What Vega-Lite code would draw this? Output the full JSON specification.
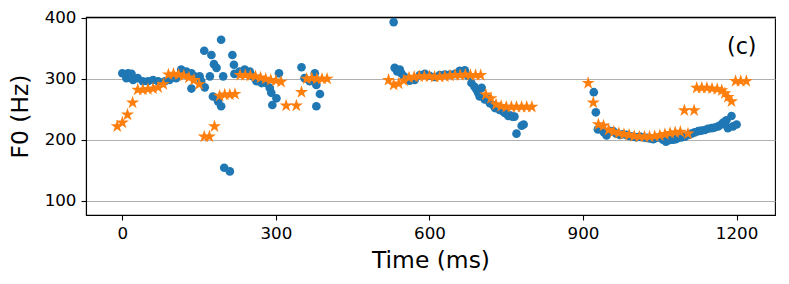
{
  "$schema": "https://vega.github.io/schema/vega-lite/v6.json",
  "autosize": {"type": "none"},
  "padding": {"left": 86, "top": 17, "right": 14, "bottom": 69},
  "width": 689,
  "height": 198,
  "background": "white",
  "config": {
    "font": "DejaVu Sans",
    "view": {"stroke": "black", "strokeWidth": 1.1},
    "axis": {
      "domainColor": "black", "domainWidth": 1.1,
      "tickColor": "black", "tickWidth": 1.1, "tickSize": 5,
      "labelColor": "black", "labelFontSize": 16.7, "labelPadding": 5,
      "titleColor": "black", "titleFontSize": 23.4, "titleFontWeight": "normal",
      "labelFont": "DejaVu Sans", "titleFont": "DejaVu Sans"
    }
  },
  "datasets": {
    "blue": [
      {"t":0,"f0":309},{"t":8,"f0":301},{"t":11,"f0":309},{"t":18,"f0":308},{"t":21,"f0":298},{"t":30,"f0":301},{"t":40,"f0":296},{"t":50,"f0":296},{"t":60,"f0":298},{"t":70,"f0":296},{"t":83,"f0":296},{"t":92,"f0":298},{"t":105,"f0":301},{"t":115,"f0":315},{"t":125,"f0":312},{"t":135,"f0":309},{"t":135,"f0":284},{"t":141,"f0":304},{"t":151,"f0":304},{"t":154,"f0":296},{"t":160,"f0":346},{"t":161,"f0":286},{"t":171,"f0":304},{"t":174,"f0":339},{"t":177,"f0":271},{"t":179,"f0":324},{"t":184,"f0":318},{"t":187,"f0":263},{"t":193,"f0":364},{"t":193,"f0":255},{"t":197,"f0":304},{"t":199,"f0":154},{"t":210,"f0":148},{"t":215,"f0":339},{"t":218,"f0":323},{"t":219,"f0":308},{"t":229,"f0":312},{"t":239,"f0":315},{"t":249,"f0":312},{"t":255,"f0":304},{"t":262,"f0":296},{"t":272,"f0":293},{"t":281,"f0":293},{"t":288,"f0":285},{"t":291,"f0":277},{"t":293,"f0":257},{"t":301,"f0":268},{"t":306,"f0":309},{"t":350,"f0":319},{"t":356,"f0":301},{"t":366,"f0":296},{"t":376,"f0":309},{"t":379,"f0":298},{"t":379,"f0":290},{"t":386,"f0":275},{"t":379,"f0":255},
      {"t":530,"f0":393},{"t":532,"f0":318},{"t":537,"f0":312},{"t":542,"f0":315},{"t":545,"f0":309},{"t":550,"f0":304},{"t":561,"f0":297},{"t":571,"f0":298},{"t":581,"f0":306},{"t":591,"f0":308},{"t":600,"f0":305},{"t":610,"f0":303},{"t":620,"f0":306},{"t":630,"f0":307},{"t":640,"f0":307},{"t":650,"f0":308},{"t":659,"f0":313},{"t":669,"f0":314},{"t":675,"f0":305},{"t":682,"f0":293},{"t":688,"f0":287},{"t":692,"f0":282},{"t":695,"f0":277},{"t":698,"f0":271},{"t":702,"f0":285},{"t":708,"f0":266},{"t":714,"f0":267},{"t":718,"f0":260},{"t":724,"f0":257},{"t":728,"f0":252},{"t":734,"f0":252},{"t":737,"f0":249},{"t":744,"f0":247},{"t":747,"f0":244},{"t":754,"f0":239},{"t":757,"f0":240},{"t":762,"f0":238},{"t":766,"f0":238},{"t":770,"f0":210},{"t":780,"f0":223},{"t":784,"f0":225},
      {"t":921,"f0":278},{"t":925,"f0":245},{"t":929,"f0":217},{"t":936,"f0":217},{"t":941,"f0":212},{"t":946,"f0":207},{"t":953,"f0":214},{"t":959,"f0":214},{"t":965,"f0":210},{"t":972,"f0":208},{"t":978,"f0":209},{"t":985,"f0":208},{"t":991,"f0":206},{"t":998,"f0":205},{"t":1004,"f0":204},{"t":1011,"f0":205},{"t":1017,"f0":204},{"t":1024,"f0":203},{"t":1030,"f0":202},{"t":1037,"f0":201},{"t":1043,"f0":203},{"t":1050,"f0":204},{"t":1056,"f0":200},{"t":1062,"f0":197},{"t":1066,"f0":199},{"t":1071,"f0":200},{"t":1076,"f0":200},{"t":1081,"f0":201},{"t":1086,"f0":203},{"t":1093,"f0":204},{"t":1099,"f0":205},{"t":1106,"f0":208},{"t":1112,"f0":210},{"t":1118,"f0":212},{"t":1125,"f0":214},{"t":1131,"f0":215},{"t":1138,"f0":216},{"t":1144,"f0":218},{"t":1151,"f0":219},{"t":1157,"f0":220},{"t":1164,"f0":222},{"t":1170,"f0":225},{"t":1174,"f0":228},{"t":1180,"f0":232},{"t":1183,"f0":219},{"t":1190,"f0":239},{"t":1193,"f0":222},{"t":1200,"f0":225}
    ],
    "orange": [
      {"t":-10,"f0":222},{"t":0,"f0":228},{"t":10,"f0":241},{"t":20,"f0":261},{"t":30,"f0":282},{"t":40,"f0":282},{"t":50,"f0":283},{"t":60,"f0":284},{"t":70,"f0":286},{"t":80,"f0":291},{"t":90,"f0":307},{"t":100,"f0":308},{"t":110,"f0":307},{"t":120,"f0":305},{"t":130,"f0":302},{"t":140,"f0":298},{"t":150,"f0":291},{"t":160,"f0":205},{"t":170,"f0":205},{"t":180,"f0":222},{"t":190,"f0":272},{"t":200,"f0":274},{"t":210,"f0":274},{"t":220,"f0":275},{"t":230,"f0":306},{"t":240,"f0":306},{"t":250,"f0":305},{"t":260,"f0":304},{"t":270,"f0":302},{"t":280,"f0":300},{"t":290,"f0":298},{"t":300,"f0":297},{"t":310,"f0":295},{"t":320,"f0":256},{"t":340,"f0":256},{"t":350,"f0":278},{"t":360,"f0":300},{"t":370,"f0":301},{"t":380,"f0":300},{"t":390,"f0":300},{"t":400,"f0":300},
      {"t":520,"f0":298},{"t":530,"f0":290},{"t":540,"f0":292},{"t":550,"f0":297},{"t":560,"f0":302},{"t":570,"f0":303},{"t":580,"f0":304},{"t":590,"f0":304},{"t":600,"f0":304},{"t":610,"f0":303},{"t":620,"f0":303},{"t":630,"f0":304},{"t":640,"f0":305},{"t":650,"f0":306},{"t":660,"f0":306},{"t":670,"f0":307},{"t":680,"f0":306},{"t":690,"f0":306},{"t":700,"f0":306},{"t":710,"f0":274},{"t":720,"f0":268},{"t":730,"f0":258},{"t":740,"f0":255},{"t":750,"f0":254},{"t":760,"f0":254},{"t":770,"f0":254},{"t":780,"f0":254},{"t":790,"f0":254},{"t":800,"f0":254},
      {"t":910,"f0":293},{"t":920,"f0":261},{"t":930,"f0":225},{"t":940,"f0":223},{"t":950,"f0":216},{"t":960,"f0":213},{"t":970,"f0":211},{"t":980,"f0":209},{"t":990,"f0":208},{"t":1000,"f0":206},{"t":1010,"f0":205},{"t":1020,"f0":205},{"t":1030,"f0":205},{"t":1040,"f0":206},{"t":1050,"f0":207},{"t":1060,"f0":209},{"t":1070,"f0":211},{"t":1080,"f0":212},{"t":1090,"f0":213},{"t":1098,"f0":248},{"t":1105,"f0":210},{"t":1117,"f0":248},{"t":1122,"f0":285},{"t":1132,"f0":285},{"t":1142,"f0":285},{"t":1152,"f0":284},{"t":1162,"f0":283},{"t":1171,"f0":281},{"t":1177,"f0":276},{"t":1183,"f0":270},{"t":1190,"f0":263},{"t":1198,"f0":296},{"t":1208,"f0":296},{"t":1219,"f0":296}
    ],
    "note": [{"label":"(c)","t":1210,"f0":352}]
  },
  "encoding": {
    "x": {"field": "t", "type": "quantitative", "scale": {"domain": [-71, 1275], "nice": false, "zero": false},
      "axis": {"values": [0, 300, 600, 900, 1200], "format": "d", "title": "Time (ms)", "grid": false, "titlePadding": 8}},
    "y": {"field": "f0", "type": "quantitative", "scale": {"domain": [76.5, 401.4], "nice": false, "zero": false},
      "axis": {"values": [100, 200, 300, 400], "format": "d", "title": "F0 (Hz)", "grid": true, "gridColor": "#b0b0b0", "gridWidth": 1.1, "titlePadding": 12}}
  },
  "layer": [
    {"data": {"name": "blue"}, "mark": {"type": "point", "shape": "circle", "filled": true, "color": "#1f77b4", "opacity": 1, "size": 75, "strokeWidth": 0}},
    {"data": {"name": "orange"}, "mark": {"type": "point", "shape": "M0,-1L0.2245,-0.309L0.951,-0.309L0.363,0.118L0.588,0.809L0,0.382L-0.588,0.809L-0.363,0.118L-0.951,-0.309L-0.2245,-0.309Z", "filled": true, "color": "#ff7f0e", "opacity": 1, "size": 190, "strokeWidth": 0}},
    {"data": {"name": "note"}, "mark": {"type": "text", "fontSize": 22.2, "font": "DejaVu Sans", "color": "black", "align": "center", "baseline": "middle"},
      "encoding": {"text": {"field": "label"}}}
  ]
}
